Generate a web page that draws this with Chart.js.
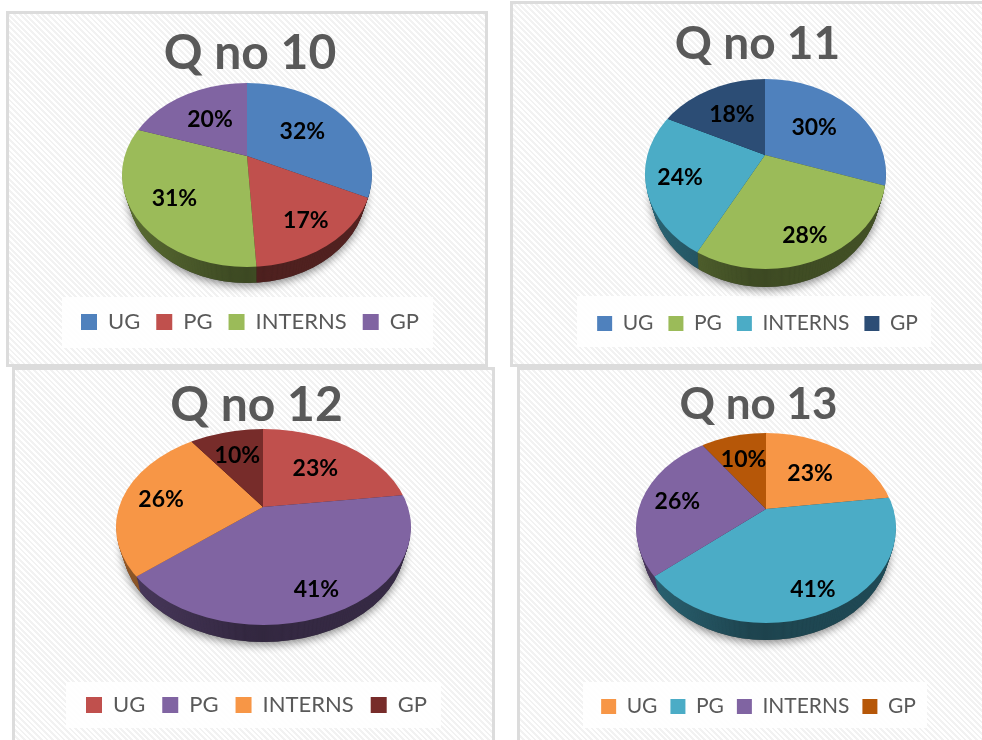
<!DOCTYPE html>
<html><head><meta charset="utf-8">
<style>
html,body{margin:0;padding:0;background:#fff;overflow:hidden;width:982px;height:740px}
.panel{position:absolute;box-sizing:border-box;border:3px solid #dcdcdc;
background:repeating-linear-gradient(45deg,#fff 0 2px,#f2f2f2 2px 4px);overflow:hidden}
canvas{position:absolute;left:-3px;top:-3px}
</style>
<script src="https://cdn.jsdelivr.net/npm/chart.js@4"></script>
</head><body>
<script>
const categories = ['UG','PG','INTERNS','GP'];
const q10Values = [32,17,31,20];
const q11Values = [30,28,24,18];
const q12Values = [23,41,26,10];
const q13Values = [23,41,26,10];
const q10Colors = ['#4F81BD','#C0504D','#9BBB59','#8064A2'];
const q11Colors = ['#4F81BD','#9BBB59','#4BACC6','#2C4D75'];
const q12Colors = ['#C0504D','#8064A2','#F79646','#772C2A'];
const q13Colors = ['#F79646','#4BACC6','#8064A2','#B65708'];

const panels = [
 {title:'Q no 10',values:q10Values,colors:q10Colors,box:[6,11,482,356],padL:6,titleSize:48,titleTop:14,legendSize:22,legendGap:16,legendBottom:24,boxW:16,
  pie:{cx:247,cy:175,rx:125,ry:92,ax:247,ay:156,depth:16},frac:[.6,.72,.66,.61],white:[62,297,371,51]},
 {title:'Q no 11',values:q11Values,colors:q11Colors,box:[510,1,475,366],padL:20,titleSize:46,titleTop:16,legendSize:21,legendGap:15,legendBottom:23,boxW:15,
  pie:{cx:765.5,cy:174,rx:120.5,ry:95,ax:765,ay:155,depth:18},frac:[.58,.76,.71,.62],white:[577,296,354,51]},
 {title:'Q no 12',values:q12Values,colors:q12Colors,box:[12,367,483,376],padL:6,titleSize:48,titleTop:10,legendSize:22,legendGap:17,legendBottom:17,boxW:16,
  pie:{cx:263.5,cy:527,rx:147.5,ry:98,ax:263,ay:507,depth:17},frac:[.64,.77,.73,.70],white:[66,682,375,46]},
 {title:'Q no 13',values:q13Values,colors:q13Colors,box:[517,367,468,376],padL:15,titleSize:44,titleTop:11,legendSize:21,legendGap:13,legendBottom:16,boxW:15,
  pie:{cx:766,cy:528,rx:130,ry:95,ax:766,ay:509,depth:17},frac:[.61,.77,.72,.69],white:[583,682,344,46]}
];

function shade(hex,f){
  const n=parseInt(hex.slice(1),16);
  const c=s=>Math.round(((n>>s)&255)*f);
  return `rgb(${c(16)},${c(8)},${c(0)})`;
}

const WALL_SHRINK = 6;

const piePlugin = {
  id:'pie3d',
  beforeDraw(chart,args,o){
    const c=chart.ctx,w=o.white;
    c.save();c.fillStyle='rgba(255,255,255,.92)';c.fillRect(w[0],w[1],w[2],w[3]);c.restore();
  },
  beforeDatasetsDraw(chart,args,o){
    const c=chart.ctx,p=o.pie,arcs=chart.getDatasetMeta(0).data,k=p.ry/p.rx;
    const place=(arc,dy)=>{c.translate(p.ax,p.ay+dy);c.scale(1,k);c.translate(-arc.x,-arc.y);};
    c.save();
    c.shadowColor='rgba(0,0,0,.45)';c.shadowBlur=9;c.shadowOffsetY=3;
    c.fillStyle='#444';
    c.beginPath();c.ellipse(p.cx,p.cy+p.depth,p.rx-WALL_SHRINK,p.ry,0,0,Math.PI*2);c.fill();
    c.restore();
    const grad=c.createLinearGradient(p.cx-p.rx,0,p.cx+p.rx,0);
    grad.addColorStop(0,'rgba(0,0,0,0)');
    grad.addColorStop(.45,'rgba(0,0,0,.36)');
    grad.addColorStop(1,'rgba(0,0,0,.3)');
    for(let dy=p.depth;dy>=0;dy--){
      const rxd=p.rx-WALL_SHRINK*dy/p.depth;
      c.save();
      c.beginPath();c.ellipse(p.cx,p.cy+dy,rxd,p.ry,0,0,Math.PI*2);c.clip();
      arcs.forEach(arc=>{
        const shim=Object.create(arc);
        const col=shade(arc.options.backgroundColor,dy===0?1:.6);
        shim.options=Object.assign({},arc.options,{backgroundColor:col,borderColor:col,borderWidth:0});
        c.save();place(arc,dy);shim.draw(c);c.restore();
      });
      if(dy>0){c.fillStyle=grad;c.fillRect(p.cx-p.rx-2,p.cy-p.ry,p.rx*2+4,p.ry*2+p.depth+4);}
      c.restore();
    }
    // data labels, placed along each slice's mid-angle
    const R=p.rx,off=(p.cy-p.ay)/k;
    c.save();
    c.font=`bold ${o.labelSize}px Lato`;c.fillStyle='#000';c.textAlign='center';c.textBaseline='middle';
    arcs.forEach((arc,i)=>{
      const mid=(arc.startAngle+arc.endAngle)/2;
      const dx=Math.cos(mid),dy=Math.sin(mid);
      const ad=-off*dy;
      const t=-ad+Math.sqrt(ad*ad+R*R-off*off);
      const r=t*o.frac[i];
      c.fillText(chart.data.datasets[0].data[i]+'%',p.ax+dx*r,p.ay+dy*r*k+1);
    });
    c.restore();
    return false;
  }
};

panels.forEach(cfg=>{
  const [l,t,w,h]=cfg.box;
  const div=document.createElement('div');
  div.className='panel';
  div.style.cssText=`left:${l}px;top:${t}px;width:${w}px;height:${h}px`;
  const cv=document.createElement('canvas');
  cv.width=w;cv.height=h;cv.style.width=w+'px';cv.style.height=h+'px';
  div.appendChild(cv);document.body.appendChild(div);
  const pie={...cfg.pie,cx:cfg.pie.cx-l,cy:cfg.pie.cy-t,ax:cfg.pie.ax-l,ay:cfg.pie.ay-t};
  const white=[cfg.white[0]-l,cfg.white[1]-t,cfg.white[2],cfg.white[3]];
  new Chart(cv,{
    type:'pie',
    plugins:[piePlugin],
    data:{labels:categories,datasets:[{data:cfg.values,backgroundColor:cfg.colors,borderWidth:0,radius:700}]},
    options:{
      responsive:false,animation:false,
      layout:{padding:{left:cfg.padL,bottom:cfg.legendBottom}},
      plugins:{
        tooltip:{enabled:false},
        pie3d:{pie,white,frac:cfg.frac,labelSize:23},
        title:{display:true,text:cfg.title,color:'#595959',padding:{top:cfg.titleTop,bottom:0},
          font:{family:'Lato',weight:'bold',size:cfg.titleSize,lineHeight:1.2}},
        legend:{position:'bottom',labels:{boxWidth:cfg.boxW,boxHeight:cfg.boxW,padding:cfg.legendGap,color:'#595959',
          font:{family:'Lato',size:cfg.legendSize}}}
      }
    }
  });
});
</script>
</body></html>
